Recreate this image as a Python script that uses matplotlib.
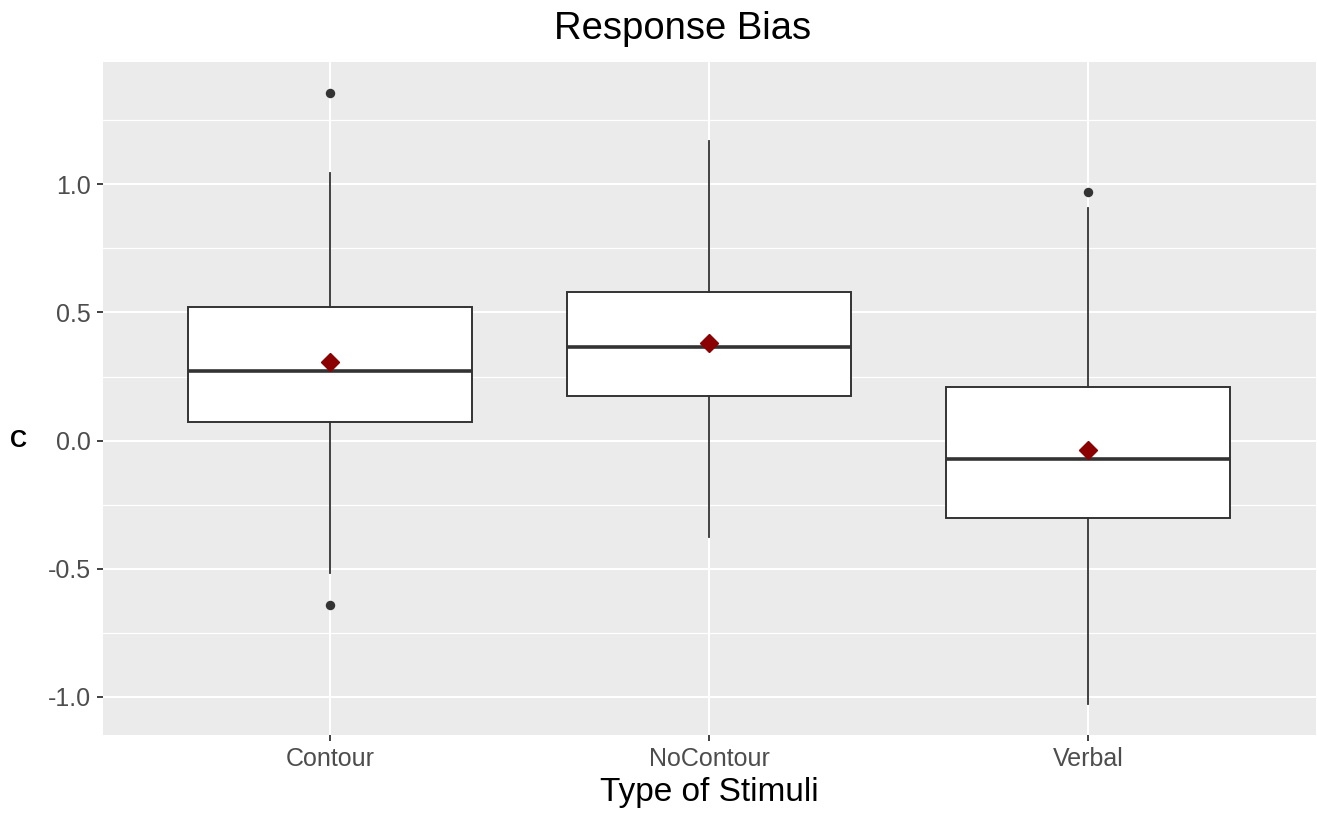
import matplotlib
matplotlib.use('Agg')
import matplotlib.pyplot as plt
from matplotlib.ticker import MultipleLocator

# Box statistics (response bias c)
categories = ['Contour', 'NoContour', 'Verbal']
q1 = [0.073, 0.174, -0.304]
medians = [0.272, 0.366, -0.072]
q3 = [0.522, 0.578, 0.208]
whisker_low = [-0.518, -0.375, -1.028]
whisker_high = [1.043, 1.170, 0.909]
outliers = [[1.357, -0.642], [], [0.971]]
means = [0.305, 0.382, -0.037]

y_ticks = [-1.0, -0.5, 0.0, 0.5, 1.0]
y_tick_labels = ['-1.0', '-0.5', '0.0', '0.5', '1.0']

plt.rcParams['font.family'] = ['Liberation Sans', 'DejaVu Sans']

fig = plt.figure(figsize=(13.17, 8.18), dpi=100)
ax = fig.add_axes([0.078, 0.1015, 0.921, 0.8225])
ax.set_facecolor('#EBEBEB')
for s in ax.spines.values():
    s.set_visible(False)

# grid: major + minor horizontal, major vertical at categories
ax.set_axisbelow(True)
ax.yaxis.set_minor_locator(MultipleLocator(0.25))
ax.grid(which='major', axis='both', color='white', linewidth=1.5)
ax.grid(which='minor', axis='y', color='white', linewidth=0.9)

stats = []
for i, name in enumerate(categories):
    stats.append({
        'label': name,
        'q1': q1[i], 'med': medians[i], 'q3': q3[i],
        'whislo': whisker_low[i], 'whishi': whisker_high[i],
        'fliers': outliers[i],
    })

positions = list(range(1, len(categories) + 1))
ax.bxp(stats, positions=positions, widths=0.75, patch_artist=True,
       showcaps=False, showmeans=False,
       boxprops=dict(facecolor='white', edgecolor='#333333', linewidth=1.4),
       medianprops=dict(color='#333333', linewidth=2.6, solid_capstyle='butt'),
       whiskerprops=dict(color='#333333', linewidth=1.3),
       flierprops=dict(marker='o', markerfacecolor='#333333',
                       markeredgecolor='none', markersize=6.8))

# mean markers
ax.plot(positions, means, linestyle='none', marker='D', color='#8B0000',
        markersize=9, zorder=5)

ax.set_xlim(0.4, 3.6)
ax.set_ylim(-1.149, 1.477)
ax.set_xticks(positions)
ax.set_xticklabels(categories)
ax.set_yticks(y_ticks)
ax.set_yticklabels(y_tick_labels)
ax.tick_params(axis='both', which='major', length=4.3, width=1.3,
               color='#333333', labelcolor='#4D4D4D', labelsize=18, pad=4.5)
ax.tick_params(axis='y', which='minor', length=0)

ax.set_title('Response Bias', fontsize=27.5, color='black', x=0.478, pad=16.5)
ax.set_xlabel('Type of Stimuli', fontsize=24, color='black', labelpad=4)
ax.set_ylabel('C', fontsize=17, fontweight='bold', color='black',
              rotation=0, va='center', ha='center')
ax.yaxis.set_label_coords(-0.0698, 0.438)

fig.savefig('out.png', dpi=100)
